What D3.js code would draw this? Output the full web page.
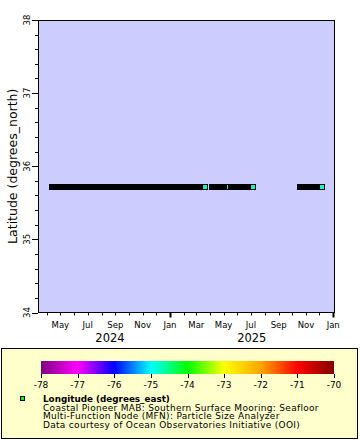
<!DOCTYPE html>
<html><head><meta charset="utf-8">
<script src="https://cdn.jsdelivr.net/npm/d3@7"></script>
<style>body{margin:0;background:#fff}svg{display:block;font-family:"DejaVu Sans",sans-serif}</style>
</head><body><svg id="c" width="360" height="440"></svg>
<script>
// ---- data ----
const xDomain = ["2024-03-12", "2026-01-05"];
const yDomain = [34, 38];
const yTicks = [34, 35, 36, 37, 38];
const latitude = 35.72;
const segFirst = ["2024-04-12", "2025-04-05", "2025-10-18"];
const segLast = ["2025-03-20", "2025-07-06", "2025-12-07"];
const markerDates = ["2025-03-20", "2025-07-06", "2025-12-07"];
const markerLon = [-74.8, -74.8, -74.8];
const breakDates = ["2025-05-09"];
const breakLon = [-74.8];
const monthLabels = ["May", "Jul", "Sep", "Nov", "Jan", "Mar", "May", "Jul", "Sep", "Nov", "Jan"];
const yearLabels = ["2024", "2025"];
const yearLabelDates = ["2024-08-20", "2025-07-03"];
const cbTicks = [-78, -77, -76, -75, -74, -73, -72, -71, -70];
const cbColors = ["#800080", "#ff00ff", "#0000ff", "#00ffff", "#00ff00", "#ffff00", "#ffa500", "#ff0000", "#800000"];
const legendTitle = "Longitude (degrees_east)";
const legendLines = ["Coastal Pioneer MAB: Southern Surface Mooring: Seafloor",
  "Multi-Function Node (MFN): Particle Size Analyzer",
  "Data courtesy of Ocean Observatories Initiative (OOI)"];
const yTitle = "Latitude (degrees_north)";

// ---- drawing ----
const svg = d3.select("#c");
const P = {l: 38, t: 20, r: 335, b: 312.5};
const pd = d3.utcParse("%Y-%m-%d");
const x = d3.scaleUtc().domain(xDomain.map(pd)).range([P.l, P.r]);
const y = d3.scaleLinear().domain(yDomain).range([P.b, P.t]);
const col = d3.scaleLinear().domain(cbTicks).range(cbColors).clamp(true);

svg.append("rect").attr("x", P.l).attr("y", P.t).attr("width", P.r - P.l).attr("height", P.b - P.t)
  .attr("fill", "#ccccff");

// data segments
const cy = y(latitude);
svg.append("g").selectAll("rect").data(segFirst.map((d, i) => [pd(d), pd(segLast[i])])).join("rect")
  .attr("x", d => Math.round(x(d[0])) - 3).attr("y", Math.round(cy) - 3)
  .attr("width", d => Math.round(x(d[1])) - Math.round(x(d[0])) + 6).attr("height", 6).attr("fill", "#000");
svg.append("g").selectAll("rect").data(markerDates.map((d, i) => [pd(d), markerLon[i]])).join("rect")
  .attr("x", d => Math.round(x(d[0])) - 2).attr("y", Math.round(cy) - 2)
  .attr("width", 4).attr("height", 4).attr("fill", d => col(d[1]));
svg.append("g").selectAll("rect").data(breakDates.map((d, i) => [pd(d), breakLon[i]])).join("rect")
  .attr("x", d => Math.round(x(d[0]))).attr("y", Math.round(cy) - 2)
  .attr("width", 1).attr("height", 4).attr("fill", d => col(d[1]));

// frame
svg.append("rect").attr("x", P.l + 0.5).attr("y", P.t + 0.5).attr("width", P.r - P.l - 1).attr("height", P.b - P.t - 0.5)
  .attr("fill", "none").attr("stroke", "#000");

// y axis
const yMinor = d3.range(34, 38.001, 0.2);
svg.append("g").selectAll("line").data(yMinor).join("line")
  .attr("x1", d => yTicks.some(t => Math.abs(t - d) < 1e-6) ? P.l - 6 : P.l - 3).attr("x2", P.l)
  .attr("y1", d => Math.round(y(d)) + 0.5).attr("y2", d => Math.round(y(d)) + 0.5).attr("stroke", "#000");
svg.append("g").selectAll("text").data(yTicks).join("text")
  .attr("transform", d => `translate(${P.l - 8},${y(d)}) rotate(-90)`)
  .attr("text-anchor", "middle").attr("font-size", 8.5).text(d => d);
svg.append("text").attr("transform", `translate(17,${(P.t + P.b) / 2}) rotate(-90)`)
  .attr("text-anchor", "middle").attr("font-size", 12.5).text(yTitle);

// x axis
const months = d3.utcMonth.range(x.domain()[0], x.domain()[1]);
svg.append("g").selectAll("line").data(months).join("line")
  .attr("x1", d => Math.round(x(d)) + 0.5).attr("x2", d => Math.round(x(d)) + 0.5)
  .attr("y1", P.b).attr("y2", d => d.getUTCMonth() === 0 ? P.b + 5 : P.b + 3)
  .attr("stroke", "#000").attr("stroke-width", d => d.getUTCMonth() === 0 ? 2 : 1);
const labelMonths = months.filter(d => d.getUTCMonth() % 2 === 0 && !(d.getUTCMonth() === 2 && d.getUTCFullYear() === 2024));
svg.append("g").selectAll("text").data(labelMonths.slice(0, monthLabels.length)).join("text")
  .attr("x", d => x(d)).attr("y", 327.5).attr("text-anchor", "middle").attr("font-size", 8.5)
  .text((d, i) => monthLabels[i]);
svg.append("g").selectAll("text").data(yearLabels).join("text")
  .attr("x", (d, i) => x(pd(yearLabelDates[i]))).attr("y", 342).attr("text-anchor", "middle")
  .attr("font-size", 11.5).text(d => d);

// legend
svg.append("rect").attr("x", 1.5).attr("y", 348.5).attr("width", 356).attr("height", 90)
  .attr("fill", "#ffffcc").attr("stroke", "#000");
const cx = d3.scaleLinear().domain([cbTicks[0], cbTicks[cbTicks.length - 1]]).range([41, 334]);
const grad = svg.append("defs").append("linearGradient").attr("id", "cb");
grad.selectAll("stop").data(cbTicks).join("stop")
  .attr("offset", d => (cx(d) - 41) / (334 - 41)).attr("stop-color", d => col(d));
svg.append("rect").attr("x", 41).attr("y", 361).attr("width", 293).attr("height", 13).attr("fill", "url(#cb)");
svg.append("g").selectAll("line").data(cbTicks).join("line")
  .attr("x1", d => Math.round(cx(d)) + 0.5).attr("x2", d => Math.round(cx(d)) + 0.5)
  .attr("y1", 374).attr("y2", 378).attr("stroke", "#000");
svg.append("g").selectAll("text").data(cbTicks).join("text")
  .attr("x", d => cx(d)).attr("y", 387.5).attr("text-anchor", "middle").attr("font-size", 9).text(d => d);
svg.append("rect").attr("x", 20.5).attr("y", 396.5).attr("width", 4).attr("height", 4)
  .attr("fill", "#00ff00").attr("stroke", "#000");
svg.append("text").attr("x", 43).attr("y", 401.5).attr("font-size", 8.8).attr("font-weight", "bold").text(legendTitle);
svg.append("g").selectAll("text").data(legendLines).join("text")
  .attr("x", 43).attr("y", (d, i) => 410.5 + i * 8.7).attr("font-size", 9)
  .attr("letter-spacing", 0.3).text(d => d);
</script></body></html>
